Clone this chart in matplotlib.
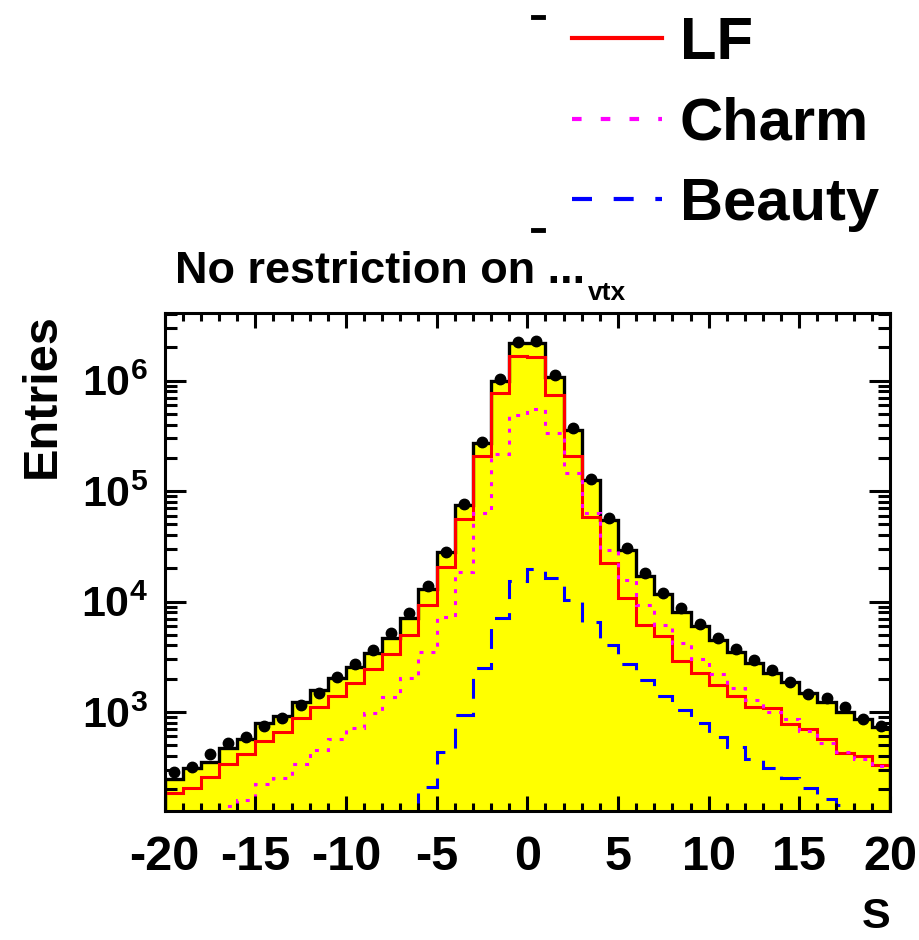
import numpy as np
import matplotlib.pyplot as plt
from matplotlib.lines import Line2D
from matplotlib.ticker import MultipleLocator, LogLocator, NullFormatter

plt.rcParams['font.family'] = 'Liberation Sans'
plt.rcParams['font.weight'] = 'bold'
plt.rcParams['axes.labelweight'] = 'bold'
plt.rcParams['mathtext.fontset'] = 'custom'
plt.rcParams['mathtext.rm'] = 'Liberation Sans:bold'
plt.rcParams['mathtext.it'] = 'Liberation Sans:bold'
plt.rcParams['mathtext.bf'] = 'Liberation Sans:bold'
plt.rcParams['mathtext.default'] = 'rm'
plt.rcParams['axes.unicode_minus'] = False

# binning in S, one unit per bin
bin_edges = np.arange(-20, 21)
bin_centers = bin_edges[:-1] + 0.5

# data points
data = [283, 318, 412, 518, 588, 745, 885, 1156, 1473, 2084,
        2697, 3638, 5224, 7950, 13800, 28250, 76400, 280000, 1030000, 2250000,
        2290000, 1130000, 370000, 128500, 56600, 30300, 18000, 12000, 8670, 6250,
        4640, 3680, 2950, 2390, 1880, 1450, 1350, 1100, 862, 750]

# total MC (yellow)
total_mc = [247, 308, 354, 474, 564, 798, 925, 1222, 1578, 2013,
            2570, 3388, 4700, 7030, 12900, 27900, 75300, 271000, 993000, 2180000,
            2180000, 1090000, 357000, 126000, 54700, 29200, 17000, 11600, 8090, 6000,
            4480, 3510, 2790, 2270, 1850, 1470, 1240, 991, 862, 734]

lf = [185, 206, 259, 337, 412, 548, 653, 873, 1114, 1393,
      1838, 2427, 3318, 5000, 9290, 20600, 55900, 208000, 768000, 1670000,
      1630000, 736000, 208000, 58600, 22100, 10700, 6120, 4860, 2910, 2240,
      1750, 1390, 1110, 1080, 776, 695, 564, 428, 399, 330]

charm = [90, 105, 120, 141, 159, 221, 250, 337, 451, 571,
         719, 984, 1356, 2010, 3510, 7170, 18400, 62800, 215000, 489000,
         553000, 333000, 145000, 62800, 29200, 15800, 9290, 6120, 4240, 2990,
         2200, 1660, 1280, 1000, 855, 671, 519, 437, 372, 324]

beauty = [20, 22, 25, 28, 30, 33, 38, 42, 48, 55,
          62, 72, 85, 105, 207, 430, 938, 2480, 7030, 15300,
          19500, 16200, 10400, 6470, 4040, 2720, 1950, 1390, 1040, 787,
          596, 484, 372, 308, 250, 203, 163, 144, 115, 100]

W, H = 919, 940
fig = plt.figure(figsize=(W / 100, H / 100), dpi=100)
ax = fig.add_axes([164.6 / W, 1 - 811 / H, (890 - 164.6) / W, (811 - 312.7) / H])
ax.set_yscale('log')

ax.stairs(total_mc, bin_edges, fill=True, color='#ffff00', baseline=1)
ax.stairs(total_mc, bin_edges, color='black', lw=2.4, baseline=1)
ax.stairs(lf, bin_edges, color='#ff0000', lw=2.2, baseline=None)
ax.stairs(charm, bin_edges, color='#ff00ff', lw=2.2, baseline=None, linestyle=(0, (1.3, 2.6)))
ax.stairs(beauty, bin_edges, color='#0000ff', lw=2.2, baseline=None, linestyle=(0, (6.5, 4.6)))
ax.plot(bin_centers, data, 'o', color='black', ms=7.5, zorder=5)

ax.set_xlim(-20, 20)
ax.set_ylim(126.6, 4.13e6)

ax.xaxis.set_major_locator(MultipleLocator(5))
ax.xaxis.set_minor_locator(MultipleLocator(1))
ax.yaxis.set_major_locator(LogLocator(base=10, numticks=10))
ax.yaxis.set_minor_locator(LogLocator(base=10, subs=np.arange(2, 10), numticks=20))
ax.yaxis.set_minor_formatter(NullFormatter())

ax.tick_params(axis='x', which='major', length=10.8, width=2.2, direction='in', top=True, labelsize=35, pad=17)
ax.tick_params(axis='x', which='minor', length=5.8, width=2.2, direction='in', top=True)
ax.tick_params(axis='y', which='major', length=15, width=2.2, direction='in', right=True, labelsize=31, pad=12)
ax.tick_params(axis='y', which='minor', length=8.6, width=2.2, direction='in', right=True)
for sp in ax.spines.values():
    sp.set_linewidth(2.2)

ax.set_xlabel('S', loc='right', fontsize=31)
ax.xaxis.set_label_coords(1.0, -0.172)
ax.set_ylabel('Entries', loc='top', fontsize=35)
ax.yaxis.set_label_coords(-0.137, 1.0)

fig.text(175 / W, 1 - 283 / H, 'No restriction on ...', fontsize=32.5,
         ha='left', va='baseline')
fig.text(588 / W, 1 - 300 / H, 'vtx', fontsize=19, ha='left', va='baseline')

handles = [Line2D([], [], color='#ff0000', lw=3),
           Line2D([], [], color='#ff00ff', lw=3, linestyle=(0, (2.3, 4.6))),
           Line2D([], [], color='#0000ff', lw=3, linestyle=(0, (4.8, 5.2)))]
fig.legend(handles, ['LF', 'Charm', 'Beauty'], loc='upper left',
           bbox_to_anchor=(572 / W, 1 - 16 / H), frameon=False, fontsize=43,
           handlelength=1.5, handletextpad=0.3, labelspacing=0.43,
           borderpad=0, borderaxespad=0)

# leftover bits of the legend box
fig.add_artist(Line2D([533 / W, 543 / W], [1 - 17 / H] * 2, color='black', lw=3.5))
fig.add_artist(Line2D([533 / W, 543 / W], [1 - 230 / H] * 2, color='black', lw=3.5))

fig.savefig('out.png', dpi=100)
